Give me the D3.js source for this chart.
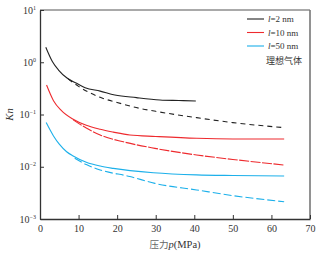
<!DOCTYPE html>
<html>
<head>
<meta charset="utf-8">
<script src="https://cdn.jsdelivr.net/npm/d3@7"></script>
<style>
  body { margin: 0; background: #fff; }
  svg { display: block; }
  text { font-family: "Liberation Serif", "Noto Sans CJK SC", serif; fill: #333; }
</style>
</head>
<body>
<div id="chart"></div>
<script>
// values (pressure in MPa, Kn)
var p2nm = [1.5, 3.2, 4.8, 7, 9.5, 11.7, 15.6, 19.4, 25, 31.1, 36, 40.4];
var kn2nm = [1.93, 1.03, 0.71, 0.5, 0.395, 0.326, 0.28, 0.236, 0.21, 0.19, 0.185, 0.181];
var p2nmIdeal = [7.3, 10, 15.6, 20, 25.9, 30, 40.6, 50, 63.3];
var kn2nmIdeal = [0.48, 0.345, 0.213, 0.17, 0.131, 0.115, 0.087, 0.07, 0.056];

var p10nm = [1.7, 3.5, 5.5, 8.6, 12, 15.6, 19, 23.3, 30, 40.6, 50, 63.3];
var kn10nm = [0.367, 0.184, 0.12, 0.081, 0.062, 0.052, 0.046, 0.0405, 0.038, 0.035, 0.034, 0.034];
var p10nmIdeal = [8.6, 12, 15.6, 21.6, 29.8, 40.6, 50, 63.3];
var kn10nmIdeal = [0.079, 0.055, 0.0405, 0.030, 0.0225, 0.0168, 0.0138, 0.0108];

var p50nm = [1.6, 3.5, 5, 6.9, 8.6, 12, 15.6, 19, 29.4, 40.6, 50, 63.3];
var kn50nm = [0.070, 0.0388, 0.027, 0.0194, 0.0161, 0.0122, 0.0103, 0.0093, 0.0077, 0.0070, 0.0068, 0.00665];
var p50nmIdeal = [9, 12, 15.6, 23.3, 29.8, 40.6, 50, 63.3];
var kn50nmIdeal = [0.0145, 0.011, 0.0087, 0.0065, 0.0048, 0.0036, 0.0028, 0.00214];

var xTicks = [0, 10, 20, 30, 40, 50, 60, 70];
var yExponents = [1, 0, -1, -2, -3];
var legendNames = ["2 nm", "10 nm", "50 nm"];

var W = 328, H = 258;
var margin = {left: 40, top: 10, right: 18, bottom: 39};

var svg = d3.select("#chart").append("svg")
    .attr("width", W)
    .attr("height", H);

var x = d3.scaleLinear().domain([0, 70]).range([margin.left, W - margin.right]);
var y = d3.scaleLog().domain([1e-3, 1e1]).range([H - margin.bottom, margin.top]);

function zip(ps, ks) {
    return ps.map(function(p, i){ return [p, ks[i]]; });
}

var series = [
    {data: zip(p2nmIdeal, kn2nmIdeal), color: "#222", dash: "5,4"},
    {data: zip(p2nm, kn2nm), color: "#222", dash: null},
    {data: zip(p10nmIdeal, kn10nmIdeal), color: "#ee2a2e", dash: "10,1.5"},
    {data: zip(p10nm, kn10nm), color: "#ee2a2e", dash: null},
    {data: zip(p50nmIdeal, kn50nmIdeal), color: "#1cb0ea", dash: "8,3"},
    {data: zip(p50nm, kn50nm), color: "#1cb0ea", dash: null}
];

var line = d3.line()
    .x(function(d){ return x(d[0]); })
    .y(function(d){ return y(d[1]); })
    .curve(d3.curveMonotoneX);

svg.selectAll("path.series")
    .data(series)
    .enter().append("path")
    .attr("class", "series")
    .attr("d", function(d){ return line(d.data); })
    .attr("fill", "none")
    .attr("stroke", function(d){ return d.color; })
    .attr("stroke-width", 1.1)
    .attr("stroke-dasharray", function(d){ return d.dash; });

// frame
var x0 = x(0), x1 = x(70), y0 = y(1e-3), y1 = y(1e1);
svg.append("line").attr("x1", x0).attr("x2", x1).attr("y1", y1).attr("y2", y1)
    .attr("stroke", "#555").attr("stroke-width", 1);
svg.append("line").attr("x1", x1).attr("x2", x1).attr("y1", y1).attr("y2", y0)
    .attr("stroke", "#777").attr("stroke-width", 1.6);

// x axis, ticks pointing inward
var xAxis = svg.append("g")
    .attr("transform", "translate(0," + y0 + ")")
    .call(d3.axisBottom(x).tickValues(xTicks).tickSizeInner(-4).tickSizeOuter(0).tickPadding(6));
xAxis.select(".domain").attr("stroke", "#333").attr("stroke-width", 1.3);
xAxis.selectAll(".tick line").attr("stroke", "#333");
xAxis.selectAll("text").attr("font-size", 10).attr("fill", "#444")
    .style("font-family", "'Liberation Serif', serif");

// y axis
var yAxis = svg.append("g")
    .attr("transform", "translate(" + x0 + ",0)")
    .call(d3.axisLeft(y).tickValues(yExponents.map(function(e){ return Math.pow(10, e); }))
        .tickSizeInner(-4).tickSizeOuter(0).tickFormat(""));
yAxis.select(".domain").attr("stroke", "#333").attr("stroke-width", 1.3);
yAxis.selectAll(".tick line").attr("stroke", "#333");

var yLab = svg.selectAll("text.ylab")
    .data(yExponents)
    .enter().append("text")
    .attr("class", "ylab")
    .attr("x", x0 - 4)
    .attr("y", function(e){ return y(Math.pow(10, e)) + 3.5; })
    .attr("text-anchor", "end")
    .attr("font-size", 10)
    .attr("fill", "#444");
yLab.append("tspan").text("10");
yLab.append("tspan").attr("dy", -4).attr("font-size", 6).text(function(e){ return e < 0 ? "\u2212" + (-e) : e; });

// axis titles
svg.append("text")
    .attr("transform", "translate(13," + ((y0 + y1) / 2) + ") rotate(-90)")
    .attr("text-anchor", "middle")
    .attr("font-size", 10.5)
    .attr("font-style", "italic")
    .attr("fill", "#555")
    .text("Kn");

var xt = svg.append("text")
    .attr("x", (x0 + x1) / 2)
    .attr("y", 248)
    .attr("text-anchor", "middle")
    .attr("font-size", 10.5)
    .attr("fill", "#555");
xt.append("tspan").style("font-family", "'Noto Sans CJK SC', sans-serif").attr("font-size", 9.5)
    .attr("fill", "#666").text("压力");
xt.append("tspan").attr("font-style", "italic").text("p");
xt.append("tspan").text("(MPa)");

// legend
var legendColors = ["#222", "#ee2a2e", "#1cb0ea"];
var lg = svg.append("g");
legendNames.forEach(function(name, i){
    var ly = 19 + i * 13.5;
    lg.append("line").attr("x1", 247).attr("x2", 264).attr("y1", ly).attr("y2", ly)
        .attr("stroke", legendColors[i]).attr("stroke-width", 1.1);
    var t = lg.append("text").attr("x", 268).attr("y", ly + 3).attr("font-size", 9).attr("fill", "#444");
    t.append("tspan").attr("font-style", "italic").text("l");
    t.append("tspan").text("=" + name);
});
lg.append("text").attr("x", 302).attr("y", 63.5).attr("text-anchor", "end")
    .attr("font-size", 9).attr("fill", "#666")
    .style("font-family", "'Noto Sans CJK SC', sans-serif")
    .text("理想气体");
</script>
</body>
</html>
